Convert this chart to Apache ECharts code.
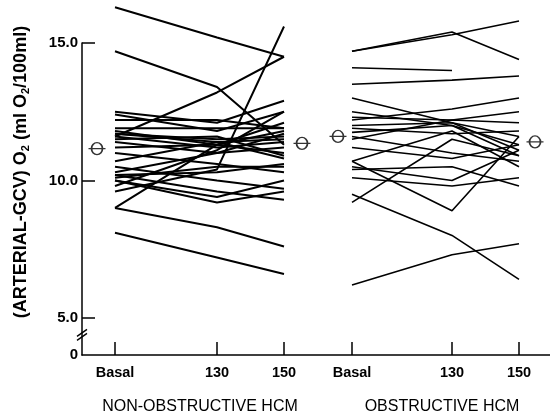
<!DOCTYPE html>
<html>
<head>
<meta charset="utf-8">
<script src="https://cdn.jsdelivr.net/npm/echarts@6/dist/echarts.min.js"></script>
<style>
  html, body { margin: 0; padding: 0; background: #fff; }
  #main { width: 550px; height: 419px; }
</style>
</head>
<body>
<div id="main"></div>
<script>
// column positions along the (hidden-unit) x axis and their labels
var colPos = [33, 135, 202, 270, 370, 437];
var colLabels = ['Basal', '130', '150', 'Basal', '130', '150'];
var yTicks = [3.65, 5, 10, 15];

// non-obstructive HCM, one entry per patient
var nonObsBasal = [16.3, 14.7, 11.6, 9.6, 12.5, 12.4, 12.2, 11.9, 11.8, 11.7, 11.6, 11.5, 11.4, 11.7, 11.2, 11.0, 10.7, 10.5, 10.3, 10.2, 10.1, 10.0, 10.0, 9.8, 9.0, 9.0, 8.1, 10.2];
var nonObs130   = [15.2, 13.4, 13.2, 10.4, 12.1, 11.8, 12.2, 11.9, 11.3, 11.5, 11.2, 11.6, 11.0, 11.4, 11.3, 10.6, 11.4, 10.0, 11.0, 9.6, 10.5, 9.4, 9.2, 11.1, 11.3, 8.3, 7.2, 10.3];
var nonObs150   = [14.5, 11.3, 14.5, 15.6, 12.9, 12.5, 11.9, 11.9, 11.0, 11.6, 11.4, 10.9, 11.7, 10.8, 12.1, 10.3, 11.5, 9.7, 11.2, 9.3, 10.5, 10.0, 9.6, 12.5, 11.8, 7.6, 6.6, 10.6];

// obstructive HCM
var obsBasal = [14.7, 14.7, 14.1, 13.5, 13.0, 12.5, 12.3, 12.2, 12.0, 11.9, 11.75, 11.5, 11.6, 10.7, 10.5, 10.1, 10.4, 10.7, 9.2, 9.5, 6.2, 11.2];
var obs130   = [15.4, 15.3, 14.0, 13.65, 12.1, 12.0, 12.2, 12.6, 12.1, 11.7, 12.0, 12.2, 11.0, 11.8, 10.0, 9.8, 10.5, 8.9, 11.5, 8.0, 7.3, 10.8];
var obs150   = [14.4, 15.8, null, 13.8, 11.1, 11.3, 12.5, 13.0, 11.6, 11.8, 10.9, 12.1, 10.7, 10.5, 11.1, 10.1, 9.8, 11.6, 10.9, 6.4, 7.7, 11.3];

// group means (x position, value)
var meanX = [15, 220, 256, 453];
var meanY = [11.16, 11.35, 11.6, 11.4];

var fontFam = '"Liberation Sans", Arial, sans-serif';

function patientSeries(b, m, e, off, width){
  var out = [];
  for (var i = 0; i < b.length; i++) {
    var pts = [[colPos[off], b[i]], [colPos[off + 1], m[i]]];
    if (e[i] != null) pts.push([colPos[off + 2], e[i]]);
    out.push({
      type: 'line',
      data: pts,
      symbol: 'none',
      clip: false,
      silent: true,
      lineStyle: { color: '#000', width: width }
    });
  }
  return out;
}

var series = []
  .concat(patientSeries(nonObsBasal, nonObs130, nonObs150, 0, 2))
  .concat(patientSeries(obsBasal, obs130, obs150, 3, 1.6));

var meanData = [];
for (var k = 0; k < meanX.length; k++) meanData.push([meanX[k], meanY[k]]);
series.push({
  type: 'scatter',
  data: meanData,
  symbol: 'path://M3,6 A5.5,6 0 1,1 14,6 A5.5,6 0 1,1 3,6 Z M0,6 L17,6',
  symbolSize: [17, 12],
  clip: false,
  itemStyle: { color: 'rgba(0,0,0,0)', borderColor: '#000', borderWidth: 1.5 }
});

var chart = echarts.init(document.getElementById('main'));
var option = {
  animation: false,
  backgroundColor: '#fff',
  grid: { left: 82, right: 0, top: 43, bottom: 64 },
  xAxis: {
    type: 'value',
    min: 0,
    max: 468,
    splitLine: { show: false },
    axisLine: { lineStyle: { color: '#000', width: 1.5 } },
    axisTick: { inside: true, length: 13, customValues: colPos, lineStyle: { color: '#000', width: 1.5 } },
    axisLabel: {
      customValues: colPos,
      margin: 10,
      color: '#000',
      fontFamily: fontFam,
      fontWeight: 'bold',
      fontSize: 14.5,
      formatter: function(v){
        var i = colPos.indexOf(v);
        return i >= 0 ? colLabels[i] : '';
      }
    }
  },
  yAxis: {
    type: 'value',
    min: 3.65,
    max: 15,
    splitLine: { show: false },
    axisLine: { show: true, lineStyle: { color: '#000', width: 1.5 } },
    axisTick: { inside: true, length: 13, customValues: [5, 10, 15], lineStyle: { color: '#000', width: 1.5 } },
    axisLabel: {
      customValues: yTicks,
      margin: 4,
      color: '#000',
      fontFamily: fontFam,
      fontWeight: 'bold',
      fontSize: 15,
      formatter: function(v){ return v < 4 ? '0' : v.toFixed(1); }
    }
  },
  series: series
};
chart.setOption(option);

// break marks on the y axis and the texts
var bx = chart.convertToPixel({ xAxisIndex: 0 }, 0);
var by = chart.convertToPixel({ yAxisIndex: 0 }, 4.4);
chart.setOption({
  graphic: [
    { type: 'line', shape: { x1: bx - 5, y1: by + 2, x2: bx + 5, y2: by - 5 }, style: { stroke: '#000', lineWidth: 1.4 } },
    { type: 'line', shape: { x1: bx - 5, y1: by + 6, x2: bx + 5, y2: by - 1 }, style: { stroke: '#000', lineWidth: 1.4 } },
    {
      type: 'text', x: 21, y: 172, rotation: Math.PI / 2,
      style: {
        text: '{b|(ARTERIAL-GCV) O}{s|2}{b| (ml O}{s|2}{b|/100ml)}',
        align: 'center', verticalAlign: 'middle',
        rich: {
          b: { fontFamily: fontFam, fontWeight: 'bold', fontSize: 18, lineHeight: 21, fill: '#000' },
          s: { fontFamily: fontFam, fontWeight: 'bold', fontSize: 11, lineHeight: 11, verticalAlign: 'bottom', fill: '#000' }
        }
      }
    },
    {
      type: 'text', x: 200, y: 407,
      style: { text: 'NON-OBSTRUCTIVE HCM', fontFamily: fontFam, fontSize: 16, fill: '#000', align: 'center', verticalAlign: 'middle' }
    },
    {
      type: 'text', x: 442, y: 407,
      style: { text: 'OBSTRUCTIVE HCM', fontFamily: fontFam, fontSize: 16, fill: '#000', align: 'center', verticalAlign: 'middle' }
    }
  ]
});
</script>
</body>
</html>
